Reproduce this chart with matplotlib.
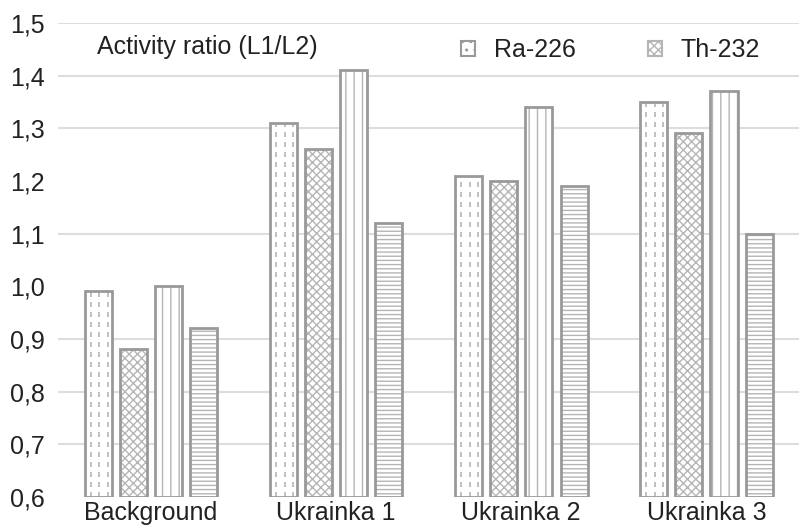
import matplotlib
matplotlib.use("Agg")
import matplotlib.pyplot as plt
import matplotlib.patches as mpatches
import numpy as np

# data
categories = ["Background", "Ukrainka 1", "Ukrainka 2", "Ukrainka 3"]
ra226_l1 = [0.99, 1.31, 1.21, 1.35]
th232_l1 = [0.88, 1.26, 1.20, 1.29]
ra226_l2 = [1.00, 1.41, 1.34, 1.37]
th232_l2 = [0.92, 1.12, 1.19, 1.10]
yticks = [0.6, 0.7, 0.8, 0.9, 1.0, 1.1, 1.2, 1.3, 1.4, 1.5]
# gridlines that show in the reference (1.0, 1.2 and 0.6 are missing)
grid_values = [0.7, 0.8, 0.9, 1.1, 1.3, 1.4, 1.5]

EDGE = "#999999"
HATCH = "#b5b5b5"
BASE = 0.6
FS = 18

plt.rcParams["font.family"] = ["Liberation Sans", "DejaVu Sans"]
plt.rcParams["hatch.linewidth"] = 1.0

fig = plt.figure(figsize=(7.99, 5.32), dpi=100)
ax = fig.add_axes([0.073, 0.066, 0.927, 0.891])

x = np.arange(len(categories))
w = 0.146
step = 0.19
series = [ra226_l1, th232_l1, ra226_l2, th232_l2]
hatches = [None, "xxxx", "||", "----"]

for i, (vals, h) in enumerate(zip(series, hatches)):
    pos = x + (i - 1.5) * step
    heights = np.array(vals) - BASE
    # hatch layer
    if h is not None:
        ax.bar(pos, heights, w, bottom=BASE, color="white", edgecolor=HATCH,
               hatch=h, linewidth=0, zorder=2)
    else:
        ax.bar(pos, heights, w, bottom=BASE, color="white", linewidth=0, zorder=2)
        # dashed vertical lines inside bar
        for frac in (0.22, 0.55, 0.85):
            ax.vlines(pos - w / 2 + frac * w, BASE, vals, colors=HATCH,
                      linestyles=(0, (3, 3)), linewidth=1.2, zorder=3)
    # outline
    ax.bar(pos, heights, w, bottom=BASE, fill=False, edgecolor=EDGE,
           linewidth=2.0, zorder=4)

for g in grid_values:
    ax.axhline(g, color="#dddddd", linewidth=1.5, zorder=1)

ax.set_xlim(-0.5, len(categories) - 0.5)
ax.set_ylim(0.6, 1.5)
ax.set_yticks(yticks)
ax.set_yticklabels([f"{v:.1f}".replace(".", ",") for v in yticks])
ax.set_xticks(x)
ax.set_xticklabels(categories)
ax.tick_params(axis="both", length=0, labelsize=FS, colors="#222222", pad=3)
ax.tick_params(axis="y", pad=10)
for s in ax.spines.values():
    s.set_visible(False)

ax.text(0.052, 0.95, "Activity ratio (L1/L2)", transform=ax.transAxes,
        fontsize=FS, color="#222222", va="center", ha="left")

h1 = mpatches.Patch(facecolor="white", edgecolor=EDGE, hatch="..", linewidth=1.5)
h2 = mpatches.Patch(facecolor="white", edgecolor=HATCH, hatch="xxxx", linewidth=1.5)
ax.legend([h1, h2], ["Ra-226", "Th-232"], loc="upper right", ncol=2,
          frameon=False, fontsize=FS, bbox_to_anchor=(0.978, 1.015),
          handlelength=0.55, handleheight=0.55, columnspacing=2.9,
          handletextpad=0.75, labelcolor="#222222")

fig.savefig("out.png", dpi=100)
